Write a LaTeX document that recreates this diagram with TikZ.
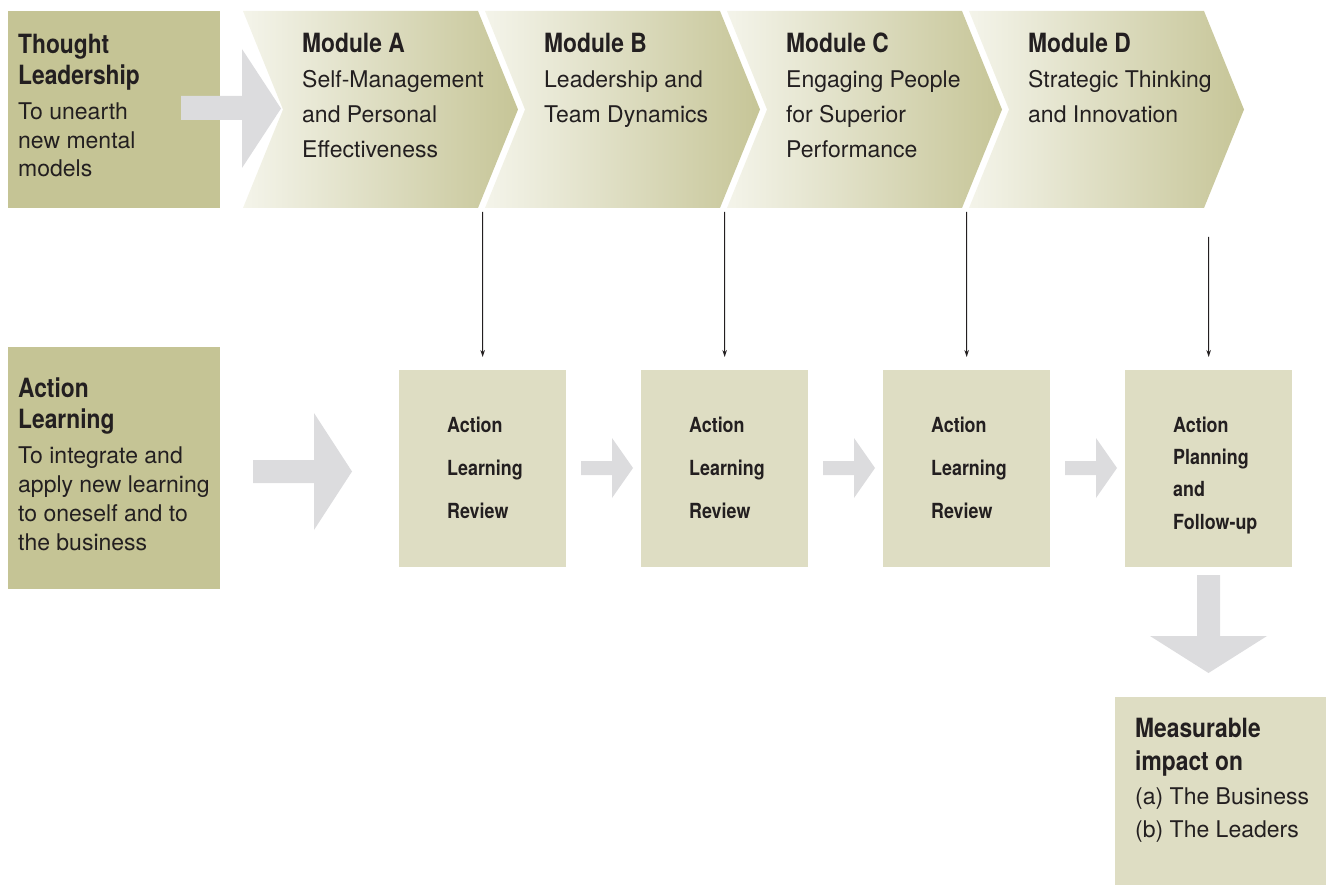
\documentclass[tikz,border=0pt]{standalone}
\usepackage{fontspec}
\setmainfont{TeX Gyre Heros}[BoldFeatures={FakeStretch=0.86}]
\usepackage{xcolor}
\usetikzlibrary{positioning,arrows.meta}

\definecolor{boxdark}{HTML}{C5C495}
\definecolor{boxlight}{HTML}{DEDDC3}
\definecolor{chevlight}{HTML}{F4F4EA}
\definecolor{chevdark}{HTML}{C6C597}
\definecolor{arrowgray}{HTML}{DCDCDE}
\definecolor{ink}{HTML}{231F20}

\tikzset{
  headbox/.style={fill=boxdark, inner sep=0, anchor=north west},
  stagebox/.style={fill=boxlight, inner sep=0, minimum width=167, minimum height=197, anchor=north west},
  stagetext/.style={inner sep=0, anchor=north west, align=left, text=ink,
    font=\bfseries\fontsize{20.8}{43}\selectfont},
  bodytext/.style={inner sep=0, anchor=north west, align=left, text=ink,
    font=\fontsize{23}{28.7}\selectfont},
  modtext/.style={bodytext, font=\fontsize{23}{35}\selectfont},
  blockarrow/.style={fill=arrowgray},
  droparrow/.style={draw=ink, line width=1pt, -{Stealth[length=7pt,width=4.5pt]}, shorten >=13pt},
}
\newcommand{\headline}[1]{{\bfseries\fontsize{26.5}{32}\selectfont #1}}

\begin{document}
\begin{tikzpicture}[x=1pt,y=-1pt]
    \useasboundingbox (0,0) rectangle (1326,885);

    % left hand boxes
    \node[headbox, minimum width=212, minimum height=197] (thought) at (8,11) {};
    \node[headbox, minimum width=212, minimum height=242] (action) at (8,347) {};

    % module chevrons
    \shade[left color=chevlight, right color=chevdark] (243,11) -- (478,11) -- (518,109.5) -- (478,208) -- (243,208) -- (283,109.5) -- cycle;
    \shade[left color=chevlight, right color=chevdark] (485,11) -- (720,11) -- (760,109.5) -- (720,208) -- (485,208) -- (525,109.5) -- cycle;
    \shade[left color=chevlight, right color=chevdark] (727,11) -- (962,11) -- (1002,109.5) -- (962,208) -- (727,208) -- (767,109.5) -- cycle;
    \shade[left color=chevlight, right color=chevdark] (969,11) -- (1204,11) -- (1244,109.5) -- (1204,208) -- (969,208) -- (1009,109.5) -- cycle;

    % review boxes
    \node[stagebox] (revA) at (399,370) {};
    \node[stagebox] (revB) at (641,370) {};
    \node[stagebox] (revC) at (883,370) {};
    \node[stagebox] (revD) at (1125,370) {};

    % outcome box
    \node[fill=boxlight, inner sep=0, anchor=north west, minimum width=211, minimum height=188] (impact) at (1115,697) {};

    % gray block arrows
    \fill[blockarrow] (181,96) -- (242,96) -- (242,49) -- (281,108.5) -- (242,168) -- (242,120) -- (181,120) -- cycle;
    \fill[blockarrow] (253,460) -- (314,460) -- (314,413) -- (352,471.5) -- (314,530) -- (314,483) -- (253,483) -- cycle;
    \fill[blockarrow] (581,461) -- (612,461) -- (612,438) -- (633,468) -- (612,498) -- (612,475) -- (581,475) -- cycle;
    \fill[blockarrow] (823,461) -- (854,461) -- (854,438) -- (875,468) -- (854,498) -- (854,475) -- (823,475) -- cycle;
    \fill[blockarrow] (1065,461) -- (1096,461) -- (1096,438) -- (1117,468) -- (1096,498) -- (1096,475) -- (1065,475) -- cycle;
    \fill[blockarrow] (1197,575) -- (1197,636) -- (1150,636) -- (1208.5,673) -- (1267,636) -- (1220,636) -- (1220,575) -- cycle;

    % texts
    \node[bodytext] (thoughtTxt) at (18,33.5) {\headline{Thought}\\[2.8pt]\headline{Leadership}\\[6.3pt]To unearth\\new mental\\models};
    \node[bodytext] (actionTxt) at (18,377.5) {\headline{Action}\\[2.8pt]\headline{Learning}\\[6.3pt]To integrate and\\apply new learning\\to oneself and to\\the business};
    \node[modtext] (modA) at (302,33) {\headline{Module A}\\Self-Management\\and Personal\\Effectiveness};
    \node[modtext] (modB) at (544,33) {\headline{Module B}\\Leadership and\\Team Dynamics};
    \node[modtext] (modC) at (786,33) {\headline{Module C}\\Engaging People\\for Superior\\Performance};
    \node[modtext] (modD) at (1028,33) {\headline{Module D}\\Strategic Thinking\\and Innovation};
    \node[stagetext] (revAtxt) at (447,416.5) {Action\\Learning\\Review};
    \node[stagetext] (revBtxt) at (689,416.5) {Action\\Learning\\Review};
    \node[stagetext] (revCtxt) at (931,416.5) {Action\\Learning\\Review};
    \node[stagetext, font=\bfseries\fontsize{20.8}{32.3}\selectfont] (revDtxt) at (1173,416.5) {Action\\Planning\\and\\Follow-up};
    \node[modtext, font=\fontsize{23}{33.5}\selectfont] (impactTxt) at (1135,717.5) {\headline{Measurable}\\\headline{impact on}\\(a) The Business\\(b) The Leaders};

    % drops from the modules
    \coordinate (dropA) at (482.5,212);
    \coordinate (dropB) at (724.5,212);
    \coordinate (dropC) at (966.5,212);
    \coordinate (dropD) at (1208.5,237);
    \draw[droparrow] (dropA) -- (revA.north);
    \draw[droparrow] (dropB) -- (revB.north);
    \draw[droparrow] (dropC) -- (revC.north);
    \draw[droparrow] (dropD) -- (revD.north);
\end{tikzpicture}
\end{document}
